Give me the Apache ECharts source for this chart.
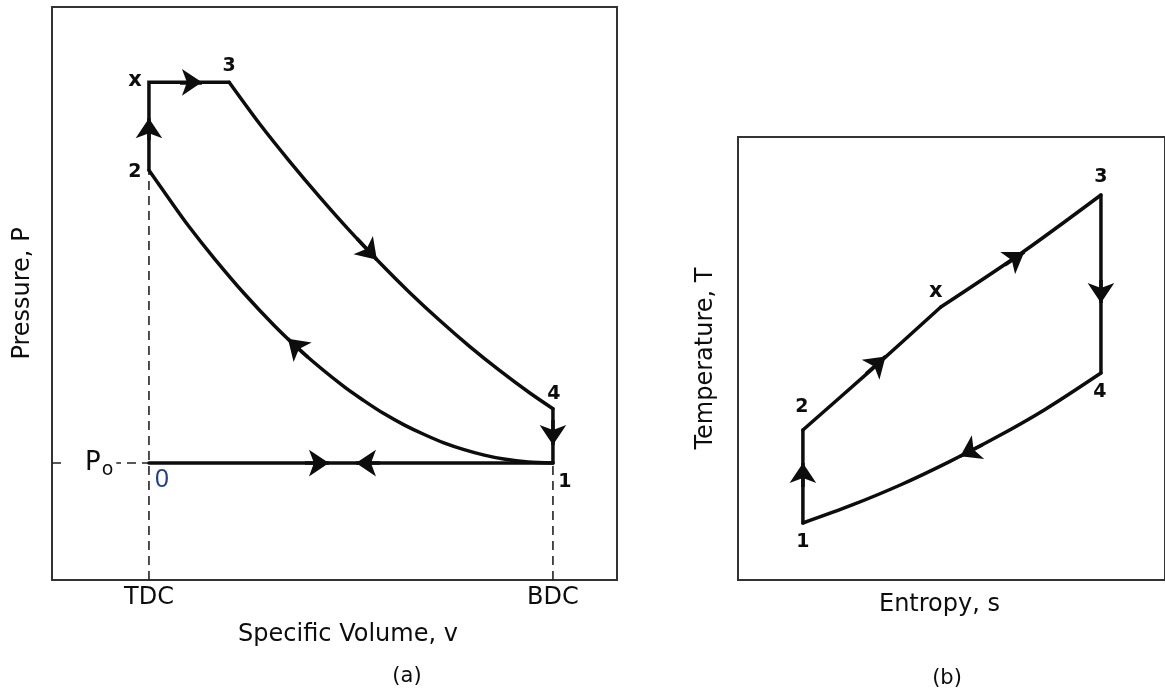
<!DOCTYPE html>
<html><head><meta charset="utf-8">
<script src="https://cdn.jsdelivr.net/npm/echarts@6/dist/echarts.min.js"></script>
<style>html,body{margin:0;padding:0;background:#fff}#c{width:1165px;height:690px}</style>
</head><body><div id="c"></div>
<script>
// ---------- Panel (a): P–v diagram (v: TDC = 1, BDC = 8; P relative, P0 = 10)
const pvTickValues = [1, 8];
const pvTickLabels = ['TDC', 'BDC'];
const pvAmbient = 10;
const pvStateNames = ['0', '1', '2', 'x', '3', '4'];
const pvStateV = [1, 8, 1, 1, 2.39, 8];
const pvStateP = [10, 10, 35.04, 42.56, 42.56, 14.65];
const pvCompression = [[8,10],[7.57,10.09],[7.15,10.34],[6.81,10.68],[6.46,11.15],[6.11,11.73],[5.77,12.44],[5.42,13.27],[5.07,14.23],[4.73,15.32],[4.38,16.53],[3.69,19.33],[3.17,21.77],[2.65,24.50],[2.13,27.51],[1.69,30.25],[1.35,32.58],[1,35.04]];
const pvExpansion = [[2.39,42.56],[2.92,38.99],[3.44,35.78],[3.96,32.74],[4.48,29.85],[5.00,27.13],[5.52,24.57],[6.04,22.19],[6.56,19.96],[7.08,17.90],[7.60,15.99],[8,14.65]];
const pvArrows = [[1,37.61,1,39.49],[1.537,42.56,1.918,42.56],[4.604,29.20,4.950,27.39],[8,13.68,8,11.54],[3.703,10,4.119,10],[5.003,10,4.587,10],[3.755,19.05,3.408,20.63]];

// ---------- Panel (b): T–s diagram (relative units)
const tsStateNames = ['1', '2', 'x', '3', '4'];
const tsStateS = [1.52, 1.52, 4.75, 8.5, 8.5];
const tsStateT = [12.87, 33.86, 61.63, 86.91, 46.73];
const tsHeatV = [[1.52,33.86],[3.14,47.60],[4.75,61.63]];
const tsHeatP = [[4.75,61.63],[6.64,73.82],[8.5,86.91]];
const tsRejection = [[8.5,46.73],[7.21,38.62],[6.07,32.32],[4.93,26.61],[3.80,21.44],[2.66,16.88],[1.52,12.87]];
const tsArrows = [[1.52,20.99,1.52,26.41],[3.0,46.57,3.455,50.47],[6.25,71.11,6.705,74.04],[8.5,67.72,8.5,62.53],[5.727,30.54,5.205,27.92]];

// ---------- styling / building
const FONT = '"DejaVu Sans", "Liberation Sans", sans-serif';
const INK = '#0d0d0d';
const pvXMin = -0.68, pvXMax = 9.11;
function solid() { return {color: INK, width: 3.5, cap: 'round', join: 'miter', opacity: 1}; }
function pathSeries(data, gi, smooth) {
  return {type: 'line', xAxisIndex: gi, yAxisIndex: gi, data: data, smooth: smooth ? 0.3 : false,
    showSymbol: false, symbol: 'none', lineStyle: solid(), silent: true, z: 3, animation: false};
}
function dashSeries(data, gi) {
  return {type: 'line', xAxisIndex: gi, yAxisIndex: gi, data: data, showSymbol: false, symbol: 'none',
    lineStyle: {color: '#222', width: 1.6, type: [9, 6]}, silent: true, z: 2, animation: false};
}
function arrowSeries(arr, gi) {
  return {type: 'lines', coordinateSystem: 'cartesian2d', xAxisIndex: gi, yAxisIndex: gi,
    symbol: ['none', 'arrow'], symbolSize: 20, silent: true, z: 4, animation: false,
    lineStyle: {color: INK, width: 3.5, opacity: 1},
    data: arr.map(a => ({coords: [[a[0], a[1]], [a[2], a[3]]]}))};
}
const pvOffsets = {'0': [13, 17], '1': [12, 19], '2': [-14, 2], 'x': [-14, -2], '3': [0, -16], '4': [1, -15]};
const tsOffsets = {'1': [0, 19], '2': [-1, -23], 'x': [-5, -15], '3': [0, -18], '4': [-1, 19]};
function labelStyle(name, off) {
  if (name === '0') return {show: true, position: 'inside', offset: off, formatter: name,
    fontFamily: '"Liberation Sans", sans-serif', fontSize: 25, color: '#1f3f8f', textBorderWidth: 0};
  return {show: true, position: 'inside', offset: off, formatter: name, fontFamily: FONT,
    fontWeight: 'bold', fontSize: name === 'x' ? 21 : 19, color: INK, textBorderWidth: 0};
}
function labelSeries(names, xs, ys, offs, gi) {
  return {type: 'scatter', xAxisIndex: gi, yAxisIndex: gi, symbolSize: 0, silent: true, z: 5, animation: false,
    itemStyle: {opacity: 1},
    data: names.map((n, i) => ({value: [xs[i], ys[i]], label: labelStyle(n, offs[n])}))};
}

const chart = echarts.init(document.getElementById('c'), null, {renderer: 'canvas'});
const gridBorder = {show: true, borderColor: '#333', borderWidth: 2, backgroundColor: 'transparent'};
chart.setOption({
  backgroundColor: '#fff',
  animation: false,
  grid: [
    Object.assign({left: 52, top: 7, width: 565, height: 573}, gridBorder),
    Object.assign({left: 738, top: 137, width: 440, height: 443}, gridBorder)
  ],
  xAxis: [
    {type: 'value', gridIndex: 0, min: pvXMin, max: pvXMax, axisLine: {show: false}, axisTick: {show: false},
     splitLine: {show: false},
     axisLabel: {customValues: pvTickValues, margin: 6, fontSize: 24, fontFamily: FONT, color: INK,
       formatter: v => pvTickLabels[pvTickValues.indexOf(v)] || ''},
     name: 'Specific Volume, v', nameLocation: 'middle', nameGap: 43,
     nameTextStyle: {fontSize: 24, fontFamily: FONT, color: INK, padding: [0, 0, 0, 27]}},
    {type: 'value', gridIndex: 1, min: 0, max: 10, axisLine: {show: false}, axisTick: {show: false},
     splitLine: {show: false}, axisLabel: {show: false},
     name: 'Entropy, s', nameLocation: 'middle', nameGap: 13,
     nameTextStyle: {fontSize: 24, fontFamily: FONT, color: INK, padding: [0, 24, 0, 0]}}
  ],
  yAxis: [
    {type: 'value', gridIndex: 0, min: 0, max: 49, z: 6, axisLine: {show: false}, axisTick: {show: false},
     splitLine: {show: false},
     axisLabel: {customValues: [pvAmbient], inside: true, margin: 11, formatter: '{p|P}{s|o}',
       backgroundColor: '#fff', padding: [0, 3, 0, 22],
       rich: {p: {fontSize: 26, fontFamily: FONT, color: INK},
              s: {fontSize: 19, fontFamily: FONT, color: INK, padding: [14, 0, 0, 1]}}},
     name: 'Pressure, P', nameLocation: 'middle', nameGap: 17,
     nameTextStyle: {fontSize: 24, fontFamily: FONT, color: INK}},
    {type: 'value', gridIndex: 1, min: 0, max: 100, axisLine: {show: false}, axisTick: {show: false},
     splitLine: {show: false}, axisLabel: {show: false},
     name: 'Temperature, T', nameLocation: 'middle', nameGap: 20,
     nameTextStyle: {fontSize: 24, fontFamily: FONT, color: INK}}
  ],
  graphic: [
    {type: 'text', x: 407, y: 677, style: {text: '(a)', font: '21px ' + FONT, fill: INK, align: 'center', verticalAlign: 'middle'}},
    {type: 'text', x: 947, y: 679, style: {text: '(b)', font: '21px ' + FONT, fill: INK, align: 'center', verticalAlign: 'middle'}}
  ],
  series: [
    // panel (a)
    dashSeries([[pvXMin, pvAmbient], [pvStateV[0], pvAmbient]], 0),
    dashSeries([[pvTickValues[0], 0], [pvStateV[2], pvStateP[2]]], 0),
    dashSeries([[pvTickValues[1], 0], [pvStateV[1], pvStateP[1]]], 0),
    pathSeries([[pvStateV[0], pvStateP[0]], [pvStateV[1], pvStateP[1]]], 0, false),
    pathSeries(pvCompression, 0, true),
    pathSeries([[pvStateV[2], pvStateP[2]], [pvStateV[3], pvStateP[3]], [pvStateV[4], pvStateP[4]]], 0, false),
    pathSeries(pvExpansion, 0, true),
    pathSeries([[pvStateV[5], pvStateP[5]], [pvStateV[1], pvStateP[1]]], 0, false),
    arrowSeries(pvArrows, 0),
    labelSeries(pvStateNames, pvStateV, pvStateP, pvOffsets, 0),
    // panel (b)
    pathSeries([[tsStateS[0], tsStateT[0]], [tsStateS[1], tsStateT[1]]], 1, false),
    pathSeries(tsHeatV, 1, true),
    pathSeries(tsHeatP, 1, true),
    pathSeries([[tsStateS[3], tsStateT[3]], [tsStateS[4], tsStateT[4]]], 1, false),
    pathSeries(tsRejection, 1, true),
    arrowSeries(tsArrows, 1),
    labelSeries(tsStateNames, tsStateS, tsStateT, tsOffsets, 1)
  ]
});
</script>
</body></html>
